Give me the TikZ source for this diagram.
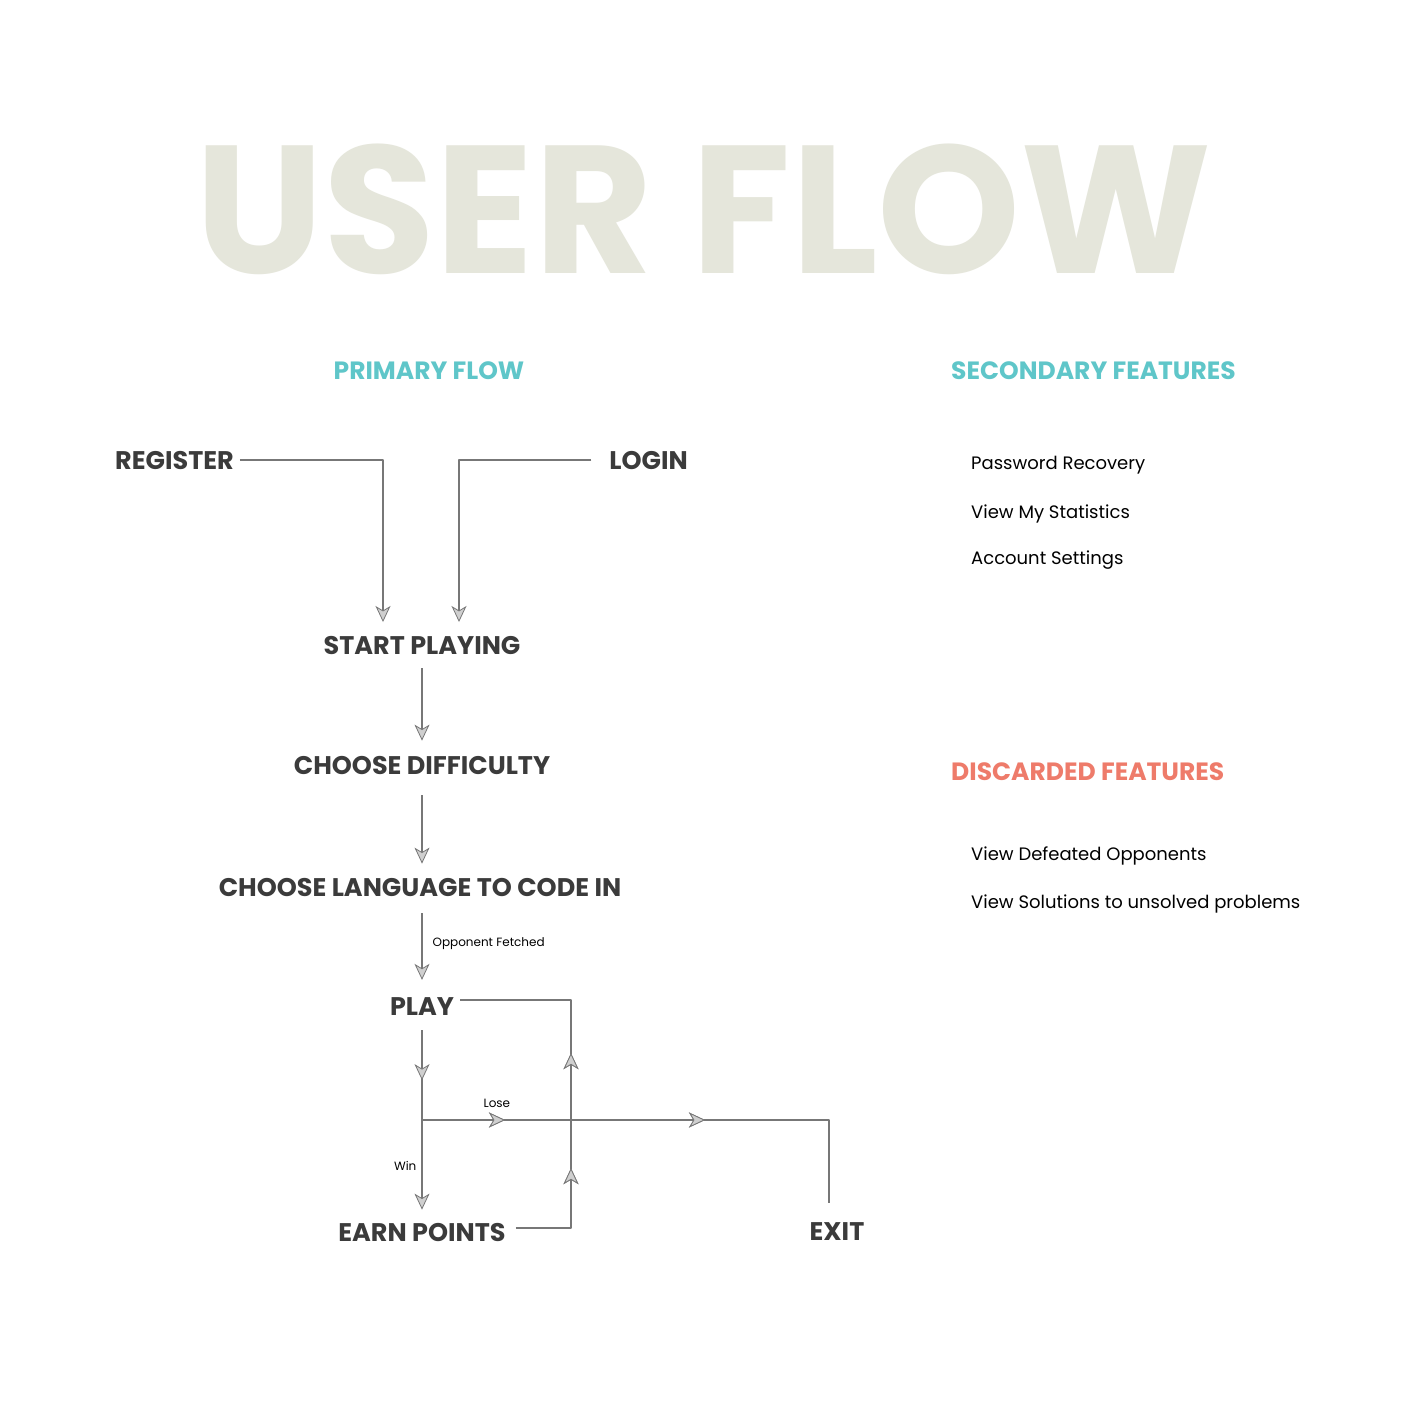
\documentclass[tikz,border=0pt]{standalone}
\usepackage{fontspec}
\setmainfont{Poppins}
\usetikzlibrary{arrows.meta}
\usetikzlibrary{decorations.markings}
\usetikzlibrary{positioning}

\definecolor{titlegray}{HTML}{E5E6DB}
\definecolor{textdark}{HTML}{3B3B3B}
\definecolor{linegray}{HTML}{777777}
\definecolor{tipfill}{HTML}{CFCFCF}
\definecolor{teal}{HTML}{5FC6C9}
\definecolor{salmon}{HTML}{EE7B6A}

\tikzset{
  tip/.tip = {Stealth[length = 16pt, width = 15pt, inset = 4.5pt, fill = tipfill, line width = 0.8pt]},
  flow/.style = {draw = linegray, line width = 1.2pt, -tip},
  plain/.style = {draw = linegray, line width = 1.2pt},
  midtip/.style = {postaction = decorate, decoration = {markings,
    mark = at position #1 with {\arrow[draw = linegray]{tip}}}},
  step label/.style = {font = \fontsize{25.5}{30}\selectfont\bfseries, text = textdark, inner sep = 0pt},
  heading/.style = {font = \fontsize{25}{30}\selectfont\bfseries, inner sep = 0pt},
  item/.style = {font = \fontsize{18}{21}\selectfont, text = black, inner sep = 0pt, anchor = base west},
  edge label/.style = {font = \fontsize{12}{14}\selectfont, text = black, inner sep = 0pt}
}

\begin{document}
\begin{tikzpicture}[x = 1pt, y = -1pt, line join = round]
  \useasboundingbox[fill = white] (0, 0) rectangle (1400, 1405);

  \node[text = titlegray, inner sep = 0pt, font = \fontsize{182}{186}\selectfont\bfseries]
    (title) at (704, 209) {USER FLOW};

  % headings
  \node[heading, text = teal] (primary) at (429, 371) {PRIMARY FLOW};
  \node[heading, text = teal, anchor = west] (secondary) at (951, 371) {SECONDARY FEATURES};
  \node[heading, text = salmon, anchor = west] (discarded) at (951, 772) {DISCARDED FEATURES};

  % flow steps
  \node[step label, anchor = west] (register) at (115, 461) {REGISTER};
  \node[step label, anchor = east] (login) at (688, 461) {LOGIN};
  \node[step label] (start) at (422, 646) {START PLAYING};
  \node[step label] (difficulty) at (422, 766) {CHOOSE DIFFICULTY};
  \node[step label] (language) at (420, 887) {CHOOSE LANGUAGE TO CODE IN};
  \node[step label] (play) at (422, 1007) {PLAY};
  \node[step label] (earn) at (422, 1232) {EARN POINTS};
  \node[step label] (exit) at (837, 1232) {EXIT};

  \coordinate (regin) at (383, 622);
  \coordinate (login in) at (459, 622);
  \coordinate (fork) at (422, 1120);
  \coordinate (loop top) at (571, 1000);

  \draw[flow] ([xshift = 6pt, yshift = 1pt]register.east) -| (regin);
  \draw[flow] ([xshift = -18pt, yshift = 1pt]login.west) -| (login in);
  \draw[flow] ([yshift = -13pt]start.south) -- ([yshift = 16pt]difficulty.north);
  \draw[flow] ([yshift = -20pt]difficulty.south) -- ([yshift = 14pt]difficulty.south |- language.north);
  \draw[flow] ([yshift = -17pt]play.north |- language.south) -- ([yshift = 18pt]play.north)
    node[edge label, pos = .45, anchor = west, xshift = 10pt] {Opponent Fetched};

  % play loop
  \draw[flow, midtip = 50pt] ([yshift = -14pt]play.south) -- ([yshift = 13pt]earn.north)
    node[edge label, pos = .755, anchor = east, xshift = -5pt] {Win};
  \draw[plain, midtip = 83pt, midtip = 283pt] (fork) -| ([xshift = -8pt, yshift = 20pt]exit.north)
    node[edge label, pos = .092, anchor = south, yshift = 12pt] {Lose};
  \draw[plain, midtip = 115pt, midtip = 230pt] ([xshift = 10pt, yshift = 4pt]earn.east) -| (loop top)
    -- ([xshift = 6pt, yshift = 7pt]play.east);

  % side lists
  \node[item] (recovery) at (971, 469) {Password Recovery};
  \node[item] (stats) at (971, 518) {View My Statistics};
  \node[item] (settings) at (971, 564) {Account Settings};
  \node[item] (defeated) at (971, 860) {View Defeated Opponents};
  \node[item] (solutions) at (971, 908) {View Solutions to unsolved problems};
\end{tikzpicture}
\end{document}
